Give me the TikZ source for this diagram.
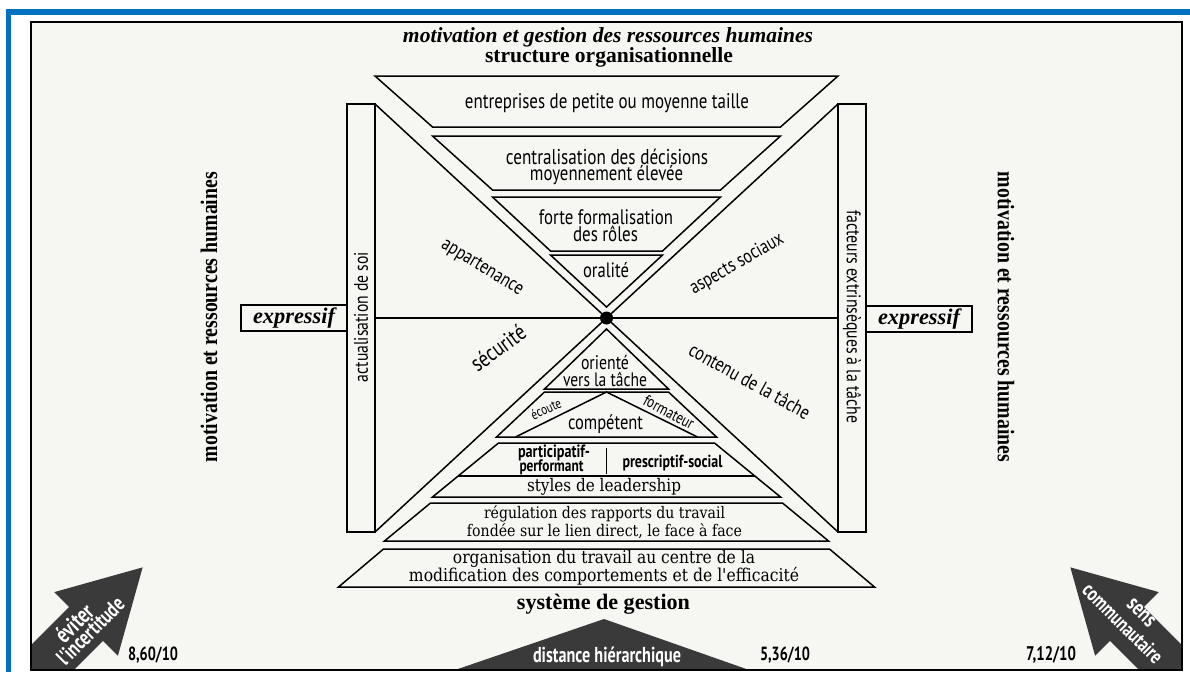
\documentclass[tikz,border=0pt]{standalone}
\usepackage{fontspec}
\usepackage{graphicx}
\setmainfont{Liberation Serif}
\newfontfamily\lsans[FakeStretch=0.8]{PT Sans}
\newfontfamily\lserif[FakeStretch=0.88]{DejaVu Serif}
\newfontfamily\asans[FakeStretch=0.75]{PT Sans}
\definecolor{frameblue}{RGB}{0,112,192}
\definecolor{paper}{RGB}{246,246,243}
\definecolor{darkfill}{RGB}{58,58,58}
\newcommand\fw[2]{\resizebox{#1pt}{!}{#2}}
\newcommand\fws[3]{\scalebox{1}[#3]{\resizebox{#1pt}{!}{#2}}}
\def\cx{606.5}
\newcommand\trapz[4]{\draw[shp] ({\cx-(#2)},#1) -- ({\cx+(#2)},#1) -- ({\cx+(#4)},#3) -- ({\cx-(#4)},#3) -- cycle;}
\begin{document}
\begin{tikzpicture}[x=1pt,y=-1pt,
  shp/.style={draw=black, line width=1.5pt, line join=miter},
  lbl/.style={inner sep=0pt, outer sep=0pt, anchor=center},
  wlbl/.style={lbl, text=white}]
\useasboundingbox (0,0) rectangle (1190,672);
% paper
\fill[white] (0,0) rectangle (1190,672);
\fill[paper] (31,22) rectangle (1182,670);
% dark arrows
\begin{scope}
\clip (31,22) rectangle (1182,670);
\begin{scope}[shift={(38,672)}, rotate=45]
\fill[darkfill] (148,0) -- (68,-45) -- (68,-24) -- (-60,-24) -- (-60,24) -- (68,24) -- (68,45) -- cycle;
\end{scope}
\begin{scope}[shift={(1175,672)}, rotate=135]
\fill[darkfill] (148,0) -- (68,-45) -- (68,-24) -- (-60,-24) -- (-60,24) -- (68,24) -- (68,45) -- cycle;
\end{scope}
\fill[darkfill] (452,671) -- (604,619) -- (752,671) -- cycle;
\end{scope}
\begin{scope}[shift={(38,672)}, rotate=45]
\node[wlbl, transform shape] (av1) at (60,-9) {\fw{44}{\asans\bfseries éviter}};
\node[wlbl, transform shape] (av2) at (66,8) {\fw{86}{\asans\bfseries l'incertitude}};
\end{scope}
\node[wlbl, rotate=-45] (as1) at (1141,613) {\fw{32}{\asans\bfseries sens}};
\node[wlbl, rotate=-45] (as2) at (1123,623.5) {\fw{104}{\asans\bfseries communautaire}};
\node[wlbl] (adh) at (607,657) {\fw{148}{\asans\bfseries distance hiérarchique}};
% numbers
\node[lbl] (n1) at (153,655) {\fw{50}{\asans\bfseries 8,60/10}};
\node[lbl] (n2) at (785,655) {\fw{50}{\asans\bfseries 5,36/10}};
\node[lbl] (n3) at (1051,655) {\fw{50}{\asans\bfseries 7,12/10}};
% bars and boxes
\draw[shp] (347,104) rectangle (375,532);
\draw[shp] (838,104) rectangle (866,532);
\draw[shp] (241,305) rectangle (347,331);
\draw[shp] (866,306) rectangle (972,332);
\draw[shp] (375,318) -- (838,318);
\draw[shp] (375,104) -- (838,532);
\draw[shp] (838,104) -- (375,532);
% top stack
\trapz{76}{231.5}{127}{174}
\trapz{136}{174}{190}{114}
\trapz{197}{114}{251}{56}
\draw[shp] ({\cx-56},255) -- ({\cx+56},255) -- (\cx,307) -- cycle;
% bottom stack
\draw[shp] (\cx,329) -- ({\cx+62},389) -- ({\cx-62},389) -- cycle;
\trapz{392}{62}{437}{110}
\draw[shp] ({\cx-91},437) -- (\cx,392) -- ({\cx+91},437);
\trapz{443}{108}{497}{174}
\draw[shp] ({\cx-148.3},476) -- ({\cx+148.3},476);
\draw[shp] (\cx,448) -- (\cx,474);
\trapz{503}{176}{541}{222}
\trapz{549}{223}{587}{268}
% centre dot
\fill (\cx,318) circle (6.5);
% titles
\node[lbl] (title) at (608,37) {\fw{410}{\bfseries\itshape motivation et gestion des ressources humaines}};
\node[lbl] (struct) at (609,57) {\fw{248}{\bfseries structure organisationnelle}};
\node[lbl] (gest) at (603.5,604) {\fw{173}{\bfseries système de gestion}};
% top texts
\node[lbl] (t1) at (607,103) {\fw{284}{\lsans entreprises de petite ou moyenne taille}};
\node[lbl] (t2a) at (607,157) {\fw{202}{\lsans centralisation des décisions}};
\node[lbl] (t2b) at (606.5,175) {\fw{153}{\lsans moyennement élevée}};
\node[lbl] (t3a) at (606,217) {\fw{134}{\lsans forte formalisation}};
\node[lbl] (t3b) at (605.5,234) {\fw{65}{\lsans des rôles}};
\node[lbl] (t4) at (606,270) {\fw{46}{\lsans oralité}};
% bottom texts
\node[lbl] (b1a) at (605,362) {\fw{48}{\lsans orienté}};
\node[lbl] (b1b) at (605,379) {\fw{84}{\lsans vers la tâche}};
\node[lbl] (b2) at (605.5,424) {\fw{75}{\lsans compétent}};
\node[lbl, rotate=25] (ecoute) at (546,409) {\fw{32}{\lsans écoute}};
\node[lbl, rotate=-28] (form) at (669,412) {\fw{55}{\lsans formateur}};
\node[lbl] (b3a) at (554,453) {\fw{72}{\lsans\bfseries participatif-}};
\node[lbl] (b3b) at (551.5,467) {\fw{64}{\lsans\bfseries performant}};
\node[lbl] (b3c) at (672.5,463) {\fw{100}{\lsans\bfseries prescriptif-social}};
\node[lbl] (b3d) at (604,487) {\fw{154}{\lserif styles de leadership}};
\node[lbl] (b4a) at (604.5,514) {\fw{241}{\lserif régulation des rapports du travail}};
\node[lbl] (b4b) at (604.5,531) {\fw{275}{\lserif fondée sur le lien direct, le face à face}};
\node[lbl] (b5a) at (604,559) {\fw{302}{\lserif organisation du travail au centre de la}};
\node[lbl] (b5b) at (604,576) {\fw{390}{\lserif modification des comportements et de l'efficacité}};
% diagonal labels
\node[lbl, rotate=-31] (app) at (482,268) {\fw{92}{\lsans appartenance}};
\node[lbl, rotate=30] (asp) at (737,264) {\fw{105}{\lsans aspects sociaux}};
\node[lbl, rotate=36] (sec) at (498,348) {\fw{62}{\lsans sécurité}};
\node[lbl, rotate=-29] (cont) at (750,381) {\fw{135}{\lsans contenu de la tâche}};
% side labels
\node[lbl] (exl) at (294,318) {\fw{82}{\bfseries\itshape expressif}};
\node[lbl] (exr) at (919,319) {\fw{82}{\bfseries\itshape expressif}};
\node[lbl, rotate=90] (act) at (361,317) {\fw{130}{\lsans actualisation de soi}};
\node[lbl, rotate=-90] (fac) at (852,317) {\fw{213}{\lsans facteurs extrinsèques à la tâche}};
\node[lbl, rotate=90] (mrl) at (209,317) {\fws{290}{\bfseries motivation et ressources humaines}{1.2}};
\node[lbl, rotate=-90] (mrr) at (1006,317) {\fws{290}{\bfseries motivation et ressources humaines}{1.2}};
% frames
\draw[line width=1.6pt] (31,22) rectangle (1182,670);
\fill[frameblue] (6,9) rectangle (1190,15);
\fill[frameblue] (6,9) rectangle (11,672);
\end{tikzpicture}
\end{document}
